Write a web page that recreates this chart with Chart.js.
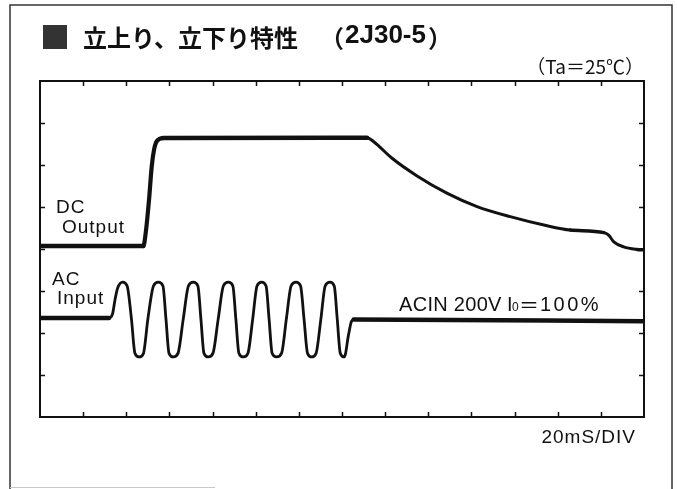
<!DOCTYPE html>
<html>
<head>
<meta charset="utf-8">
<script src="https://cdn.jsdelivr.net/npm/chart.js@4"></script>
<style>
  html, body { margin: 0; padding: 0; background: #fff; }
  #wrap { width: 677px; height: 489px; position: relative; }
</style>
</head>
<body>
<div id="wrap"><canvas id="c" width="677" height="489"></canvas></div>
<script>
// Time in divisions (20 mS/DIV), level in vertical divisions (0 = bottom)
const dcTime  = [0, 2.395, 2.45, 2.527, 2.589, 2.643, 2.71, 2.85, 7.58, 7.735, 8.16, 8.74, 9.43, 10.13, 10.90, 11.68, 12.29, 13.07, 13.18, 13.30, 13.53, 13.84, 14];
const dcLevel = [4.07, 4.07, 4.38, 5.17, 5.96, 6.36, 6.57, 6.64, 6.65, 6.555, 6.16, 5.74, 5.33, 5.01, 4.77, 4.57, 4.45, 4.39, 4.33, 4.17, 4.05, 3.99, 3.98];

const acTime  = [0, 1.60, 1.68, 1.74, 1.80, 1.917, 2.02, 2.12, 2.20, 2.302, 2.40, 2.50, 2.63, 2.742, 2.85, 2.92, 2.99, 3.09, 3.20, 3.32, 3.44, 3.553, 3.66, 3.73, 3.80, 3.901, 4.01, 4.13, 4.25, 4.365, 4.47, 4.54, 4.61, 4.713, 4.82, 4.93, 5.03, 5.139, 5.24, 5.31, 5.38, 5.487, 5.60, 5.71, 5.82, 5.934, 6.04, 6.12, 6.20, 6.298, 6.40, 6.51, 6.61, 6.722, 6.82, 6.89, 6.96, 7.054, 7.15, 7.22, 7.27, 14];
const acLevel = [2.36, 2.36, 2.45, 2.80, 3.07, 3.21, 3.12, 2.33, 1.52, 1.43, 1.52, 2.33, 3.12, 3.21, 3.12, 2.33, 1.52, 1.43, 1.52, 2.33, 3.12, 3.21, 3.12, 2.33, 1.52, 1.43, 1.52, 2.33, 3.12, 3.21, 3.12, 2.33, 1.52, 1.43, 1.52, 2.33, 3.12, 3.21, 3.12, 2.33, 1.52, 1.43, 1.52, 2.33, 3.12, 3.21, 3.12, 2.33, 1.52, 1.43, 1.52, 2.33, 3.12, 3.21, 3.12, 2.33, 1.52, 1.43, 1.95, 2.28, 2.32, 2.28];

const xDivisions = 14;
const yDivisions = 8;

const titleText = '立上り、立下り特性';
const modelText = '2J30-5';
const tempText = '（Ta＝25℃）';
const dcLabel = ['DC', 'Output'];
const acLabel = ['AC', 'Input'];
const condText = 'ACIN 200V';
const timeBase = '20mS/DIV';

const toPts = (xs, ys) => xs.map((x, i) => ({ x: x, y: ys[i] }));

const slopeOf = ctx => {
  const dx = Math.abs(ctx.p1.parsed.x - ctx.p0.parsed.x) || 1e-6;
  return Math.abs(ctx.p1.parsed.y - ctx.p0.parsed.y) / dx;
};
const dcWidth = ctx => {
  const s = slopeOf(ctx);
  if (s < 0.02) return 4.5;
  if (ctx.p0.parsed.x < 3) return 4.2;
  if (s < 0.12) return 3.5;
  return 3;
};
const acWidth = ctx => (slopeOf(ctx) < 0.02 ? 4.5 : 2.8);

const decor = {
  id: 'decor',
  beforeDraw(chart) {
    const c = chart.ctx;
    c.save();
    c.strokeStyle = '#333';
    c.lineWidth = 1.5;
    c.beginPath();
    c.moveTo(10, 489); c.lineTo(10, 5); c.lineTo(672, 5); c.lineTo(672, 489);
    c.stroke();
    c.strokeStyle = '#c8c8c8';
    c.lineWidth = 1;
    c.beginPath();
    c.moveTo(10, 487.5); c.lineTo(215, 487.5);
    c.stroke();
    c.restore();
  },
  afterDraw(chart) {
    const c = chart.ctx;
    const a = chart.chartArea;
    const xs = chart.scales.x, ys = chart.scales.y;
    c.save();
    c.strokeStyle = '#111';
    c.lineWidth = 2;
    c.strokeRect(a.left, a.top, a.right - a.left, a.bottom - a.top);
    c.lineWidth = 1.5;
    c.beginPath();
    for (let i = 1; i < xDivisions; i++) {
      const px = Math.round(xs.getPixelForValue(i)) + 0.5;
      c.moveTo(px, a.top); c.lineTo(px, a.top + 5);
      c.moveTo(px, a.bottom); c.lineTo(px, a.bottom - 5);
    }
    for (let j = 1; j < yDivisions; j++) {
      const py = Math.round(ys.getPixelForValue(j)) + 0.5;
      c.moveTo(a.left, py); c.lineTo(a.left + 5, py);
      c.moveTo(a.right, py); c.lineTo(a.right - 5, py);
    }
    c.stroke();

    c.textBaseline = 'middle';
    c.textAlign = 'left';
    c.fillStyle = '#333';
    c.font = '30px "Noto Sans CJK JP"';
    c.fillText('■', 40, 37);
    c.fillStyle = '#111';
    c.font = 'bold 24px "Noto Sans CJK JP"';
    c.fillText(titleText, 83, 38);
    c.textAlign = 'right';
    c.fillText('（', 344, 38);
    c.textAlign = 'left';
    c.font = 'bold 26px "Liberation Sans"';
    c.fillText(modelText, 345, 36);
    c.font = 'bold 24px "Noto Sans CJK JP"';
    c.fillText('）', 428, 38);

    c.font = '19px "Noto Sans CJK JP"';
    c.textAlign = 'right';
    c.fillText(tempText, 644, 67);

    c.textAlign = 'left';
    c.textBaseline = 'alphabetic';
    c.font = '19px "Liberation Sans"';
    try { c.letterSpacing = '1px'; } catch (e) {}
    c.fillText(dcLabel[0], 56, 213);
    c.fillText(dcLabel[1], 62, 233);
    c.fillText(acLabel[0], 52, 285);
    c.fillText(acLabel[1], 57, 304);

    try { c.letterSpacing = '0.3px'; } catch (e) {}
    c.font = '20px "Liberation Sans"';
    c.fillText(condText, 399, 311);
    c.fillText('I', 507, 311);
    c.font = '12px "Liberation Sans"';
    c.fillText('0', 512, 311);
    c.font = '20px "Noto Sans CJK JP"';
    try { c.letterSpacing = '0px'; } catch (e) {}
    c.textBaseline = 'middle';
    c.fillText('＝', 519, 305);
    c.textBaseline = 'alphabetic';
    c.font = '20px "Liberation Sans"';
    try { c.letterSpacing = '2.5px'; } catch (e) {}
    c.fillText('100%', 540, 311);

    c.font = '19px "Liberation Sans"';
    try { c.letterSpacing = '1px'; } catch (e) {}
    c.textAlign = 'right';
    c.fillText(timeBase, 636, 443);
    c.restore();
  }
};

new Chart(document.getElementById('c'), {
  type: 'line',
  data: {
    datasets: [
      {
        label: 'DC Output',
        data: toPts(dcTime, dcLevel),
        borderColor: '#111',
        borderWidth: 3,
        borderCapStyle: 'round',
        borderJoinStyle: 'round',
        pointRadius: 0,
        fill: false,
        cubicInterpolationMode: 'monotone',
        segment: { borderWidth: dcWidth }
      },
      {
        label: 'AC Input',
        data: toPts(acTime, acLevel),
        borderColor: '#111',
        borderWidth: 3,
        borderCapStyle: 'round',
        borderJoinStyle: 'round',
        pointRadius: 0,
        fill: false,
        cubicInterpolationMode: 'monotone',
        segment: { borderWidth: acWidth }
      }
    ]
  },
  options: {
    responsive: false,
    animation: false,
    events: [],
    layout: { padding: { left: 40, right: 33, top: 81, bottom: 72 } },
    plugins: { legend: { display: false }, tooltip: { enabled: false }, title: { display: false } },
    scales: {
      x: { type: 'linear', min: 0, max: xDivisions, display: false },
      y: { type: 'linear', min: 0, max: yDivisions, display: false }
    }
  },
  plugins: [decor]
});
</script>
</body>
</html>
